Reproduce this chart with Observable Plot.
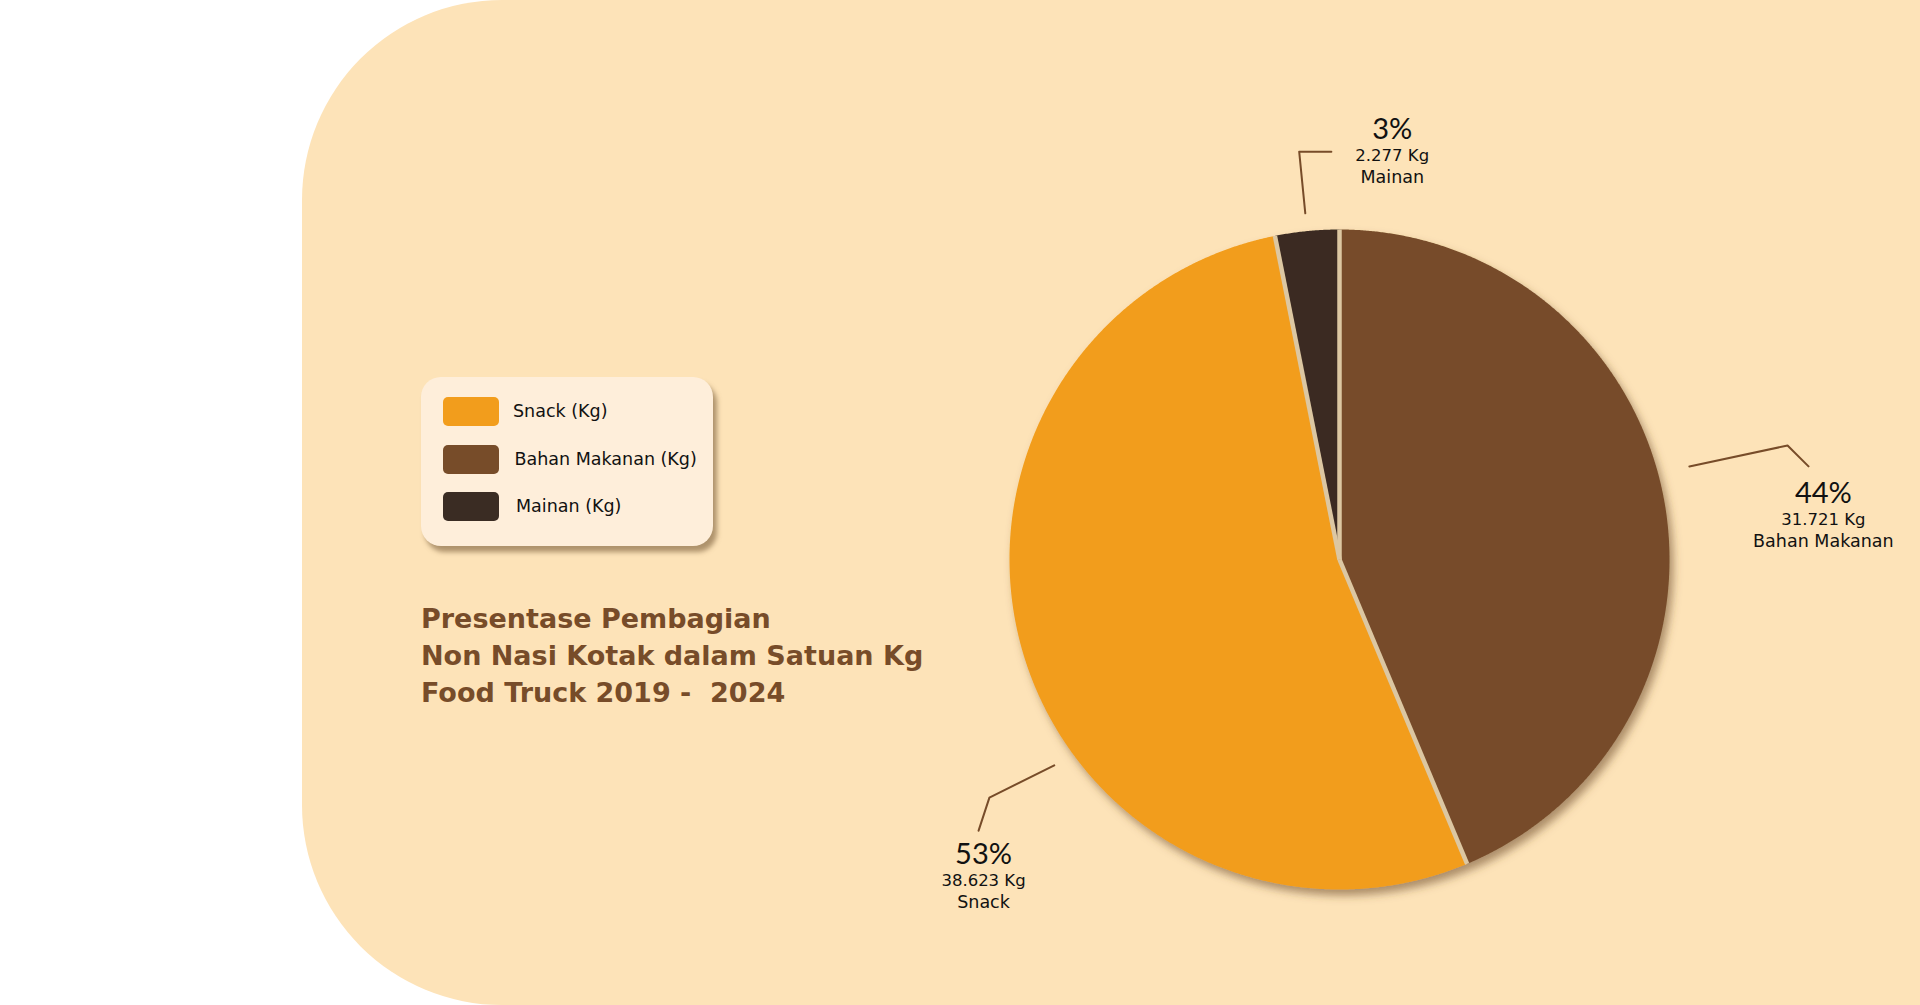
<!DOCTYPE html>
<html>
<head>
<meta charset="utf-8">
<script src="https://cdn.jsdelivr.net/npm/d3@7"></script>
<script src="https://cdn.jsdelivr.net/npm/@observablehq/plot@0.6"></script>
<style>
  html, body { margin: 0; padding: 0; background: #ffffff; }
  body { width: 1920px; height: 1005px; position: relative; overflow: hidden; font-family: "DejaVu Sans", sans-serif; }
  #panel { position: absolute; left: 302px; top: 0; width: 1618px; height: 1005px; background: #FDE3B8; border-radius: 200px 0 0 200px; z-index: 0; }
  #chart { position: absolute; left: 0; top: 0; z-index: 1; }
  #legend { position: absolute; left: 421px; top: 377px; width: 292px; height: 169px; background: #FEEEDA; border-radius: 20px; box-shadow: 4px 6px 5px rgba(110, 80, 45, 0.55); z-index: 2; }
  .sw { position: absolute; left: 22px; width: 56px; height: 29px; border-radius: 5px; }
  .lab { position: absolute; height: 29px; line-height: 29px; font-size: 17.5px; color: #111; white-space: nowrap; }
  #title { position: absolute; left: 421px; top: 600px; font-weight: bold; font-size: 27px; line-height: 37px; color: #774C29; z-index: 2; white-space: nowrap; }
</style>
</head>
<body>
<div id="panel"></div>
<div id="chart"></div>
<div id="legend"></div>
<div id="title"></div>
<script>
// ---- data ----
const categories = ["Snack", "Bahan Makanan", "Mainan"];
const valuesKg = [38623, 31721, 2277];
const unitLabel = "Kg";
const pieOrder = ["Bahan Makanan", "Snack", "Mainan"];
const titleLines = ["Presentase Pembagian", "Non Nasi Kotak dalam Satuan Kg", "Food Truck 2019 -\u00a0\u00a02024"];

// ---- style / layout ----
const palette = ["#F29D1C", "#774C29", "#3A2C23"];
const W = 1920, H = 1005, R = 330, cx = 1339, cy = 559;
// leader path as [angle offset from slice mid-angle (deg), radius factor]
const leaderLayout = {
  "Mainan":        { path: [[0, 1.054], [0, 1.242], [4.5, 1.236]], label: [12.8, 1.283] },
  "Bahan Makanan": { path: [[-3.5, 1.097], [-2.9, 1.401], [0.15, 1.449]], label: [4.77, 1.476] },
  "Snack":         { path: [[-18.8, 1.066], [-17.2, 1.283], [-19.9, 1.368]], label: [-23.5, 1.419] }
};

// ---- derived ----
const total = d3.sum(valuesKg);
const fmt = d3.formatLocale({ decimal: ",", thousands: ".", grouping: [3], currency: ["", ""] }).format(",d");
const rows = categories.map((name, i) => ({
  name, value: valuesKg[i],
  pct: Math.round(valuesKg[i] / total * 100) + "%",
  kg: fmt(valuesKg[i]) + " " + unitLabel
}));
const arcs = d3.pie().value(d => d.value)
  .sort((a, b) => pieOrder.indexOf(a.name) - pieOrder.indexOf(b.name))(rows);

const step = Math.PI / 720;
const slicePts = arcs.flatMap(a => {
  const pts = [{ name: a.data.name, x: 0, y: 0 }];
  const n = Math.max(2, Math.ceil((a.endAngle - a.startAngle) / step));
  for (let k = 0; k <= n; k++) {
    const t = a.startAngle + (a.endAngle - a.startAngle) * k / n;
    pts.push({ name: a.data.name, x: Math.sin(t), y: Math.cos(t) });
  }
  return pts;
});
const separators = arcs.map(a => ({ x1: 0, y1: 0, x2: Math.sin(a.startAngle), y2: Math.cos(a.startAngle) }));

const rad = d => d * Math.PI / 180;
const polar = (mid, [off, r]) => ({ x: r * Math.sin(mid + rad(off)), y: r * Math.cos(mid + rad(off)) });
const leaderPts = arcs.flatMap(a => {
  const mid = (a.startAngle + a.endAngle) / 2;
  return leaderLayout[a.data.name].path.map(p => ({ name: a.data.name, ...polar(mid, p) }));
});
const labels = arcs.map(a => {
  const mid = (a.startAngle + a.endAngle) / 2;
  return { ...a.data, ...polar(mid, leaderLayout[a.data.name].label) };
});

// ---- chart ----
const plot = Plot.plot({
  width: W, height: H,
  marginTop: 0, marginRight: 0, marginBottom: 0, marginLeft: 0,
  x: { domain: [-cx / R, (W - cx) / R], axis: null },
  y: { domain: [-(H - cy) / R, cy / R], axis: null },
  color: { domain: categories, range: palette },
  style: { background: "transparent", overflow: "visible" },
  marks: [
    Plot.line(slicePts, { x: "x", y: "y", z: "name", fill: "name", stroke: "none", curve: "linear" }),
    Plot.link(separators, { x1: "x1", y1: "y1", x2: "x2", y2: "y2", stroke: "#DCC7A2", strokeWidth: 4.5 }),
    Plot.line(leaderPts, { x: "x", y: "y", z: "name", stroke: "#774C29", strokeWidth: 2, curve: "linear" }),
    Plot.text(labels, { x: "x", y: "y", text: "pct", fontFamily: "Lato, 'DejaVu Sans', sans-serif", fontWeight: 400, fontSize: 29, textAnchor: "middle", lineAnchor: "bottom", fill: "#111" }),
    Plot.text(labels, { x: "x", y: "y", text: "kg", dy: 22, fontFamily: "'DejaVu Sans', sans-serif", fontSize: 16.5, textAnchor: "middle", lineAnchor: "bottom", fill: "#111" }),
    Plot.text(labels, { x: "x", y: "y", text: "name", dy: 44, fontFamily: "'DejaVu Sans', sans-serif", fontSize: 17.5, textAnchor: "middle", lineAnchor: "bottom", fill: "#111" })
  ]
});
document.getElementById("chart").appendChild(plot);

// drop shadow on the pie slices
const svg = d3.select(plot);
const defs = svg.insert("defs", ":first-child");
defs.append("filter").attr("id", "pieShadow").attr("x", "-10%").attr("y", "-10%").attr("width", "130%").attr("height", "130%")
  .append("feDropShadow").attr("dx", 4).attr("dy", 6).attr("stdDeviation", 4)
  .attr("flood-color", "#6b4a25").attr("flood-opacity", 0.55);
const sliceGroup = plot.querySelector('g[aria-label="line"]');
if (sliceGroup) sliceGroup.setAttribute("filter", "url(#pieShadow)");

// ---- legend ----
const legend = d3.select("#legend");
const rowTops = [20, 67.5, 115];
categories.forEach((name, i) => {
  legend.append("div").attr("class", "sw").style("top", rowTops[i] + "px").style("background", palette[i]);
  legend.append("div").attr("class", "lab").style("top", rowTops[i] + "px").style("left", (92 + i * 1.5) + "px")
    .text(name + " (" + unitLabel + ")");
});

// ---- title ----
d3.select("#title").html(titleLines.join("<br>"));
</script>
</body>
</html>
